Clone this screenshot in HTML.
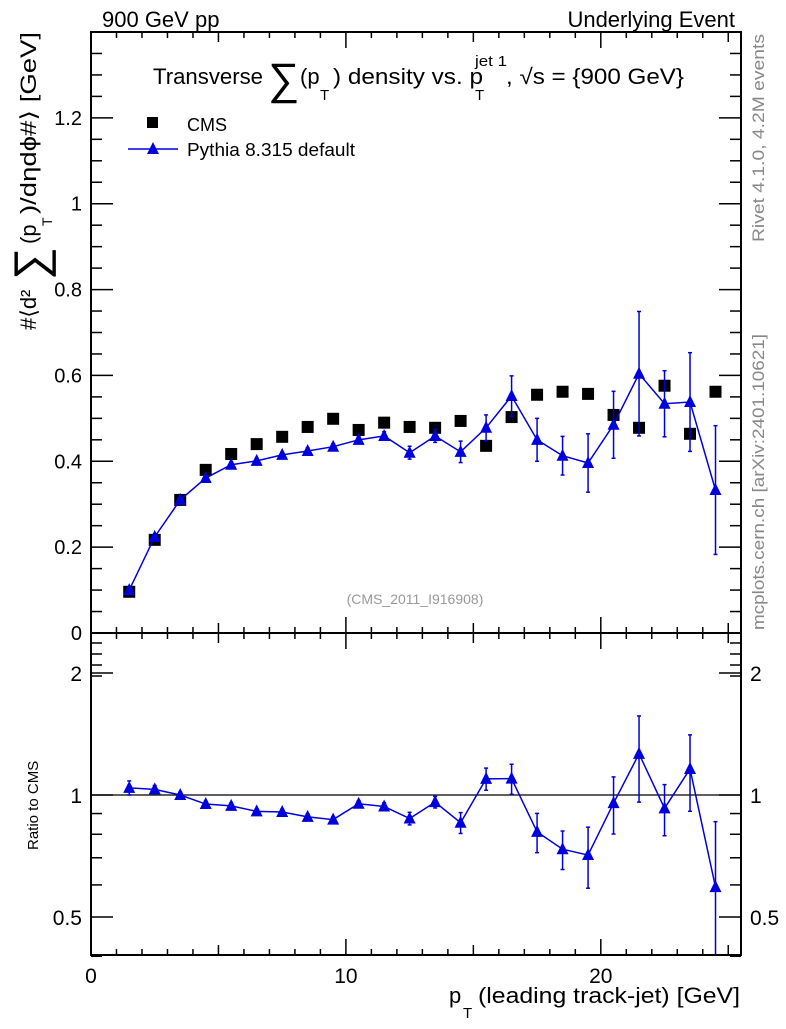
<!DOCTYPE html>
<html><head><meta charset="utf-8"><style>
body{margin:0;background:#fff;}
svg text{font-family:"Liberation Sans",sans-serif;}
</style></head><body>
<svg id="chart" width="786" height="1024" xmlns="http://www.w3.org/2000/svg">
<g id="g"></g>
</svg>
<script>
const xCenters=[1.5,2.5,3.5,4.5,5.5,6.5,7.5,8.5,9.5,10.5,11.5,12.5,13.5,14.5,15.5,16.5,17.5,18.5,19.5,20.5,21.5,22.5,23.5,24.5];
const cmsValues=[0.096,0.217,0.31,0.38,0.417,0.44,0.457,0.48,0.499,0.473,0.49,0.48,0.478,0.494,0.436,0.503,0.555,0.562,0.557,0.508,0.478,0.576,0.464,0.562];
const pythiaValues=[0.10,0.224,0.31,0.361,0.392,0.401,0.415,0.424,0.434,0.45,0.459,0.42,0.459,0.422,0.478,0.552,0.45,0.413,0.396,0.485,0.604,0.534,0.538,0.333];
const pythiaErrors=[0.004,0.005,0.005,0.006,0.006,0.006,0.006,0.007,0.007,0.008,0.01,0.015,0.015,0.025,0.03,0.047,0.05,0.045,0.068,0.078,0.145,0.077,0.115,0.15];
const mainTicks=[0,0.2,0.4,0.6,0.8,1,1.2];
const mainTickLabels=["0","0.2","0.4","0.6","0.8","1","1.2"];
const ratioTicks=[0.5,1,2];
const ratioTickLabels=["0.5","1","2"];
const xTicks=[0,10,20];
const xTickLabels=["0","10","20"];

const L=91,R=741,T=32,MB=633,RB=955;
const X=v=>L+(v-0)*(R-L)/25.5;
const Y=v=>MB-v*(MB-T)/1.4;
const RY=v=>795-Math.log2(v)*122;
const g=document.getElementById('g');
const NS='http://www.w3.org/2000/svg';
function el(tag,attrs,parent){const e=document.createElementNS(NS,tag);for(const k in attrs)e.setAttribute(k,attrs[k]);(parent||g).appendChild(e);return e;}
function txt(s,attrs,parent){const e=el('text',attrs,parent);e.textContent=s;return e;}

let f1=el('rect',{x:L,y:T,width:R-L,height:MB-T,fill:'none',stroke:'#000','stroke-width':2});


let f2=el('rect',{x:L,y:MB,width:R-L,height:RB-MB,fill:'none',stroke:'#000','stroke-width':2});



for(let v=0;v<=25;v++){
  const major=v%5===0;
  for(const [y,d] of [[MB,-1],[T,1],[RB,-1],[MB,1]]){
    el('line',{x1:X(v),x2:X(v),y1:y,y2:y+d*(v%10===0?16:(major?10:6)),stroke:'#000','stroke-width':1.5});
  }
}
xTicks.forEach((v,i)=>{const t=txt(xTickLabels[i],{x:X(v),y:983,'font-size':21,'text-anchor':'middle'});

});

for(let v=0;v<=1.4001;v+=0.05){
  const major=Math.abs(v*5-Math.round(v*5))<1e-6; const len=major?22:11;
  el('line',{x1:L,x2:L+len,y1:Y(v),y2:Y(v),stroke:'#000','stroke-width':1.5});
  el('line',{x1:R,x2:R-len,y1:Y(v),y2:Y(v),stroke:'#000','stroke-width':1.5});
}
mainTicks.forEach((v,i)=>{const t=txt(mainTickLabels[i],{x:82,y:Y(v)+7,'font-size':20,'text-anchor':'end'});

});

[0.4,0.5,0.6,0.7,0.8,0.9,1,2].forEach(v=>{const len=(v===0.5||v===1||v===2)?22:11;
  el('line',{x1:L,x2:L+len,y1:RY(v),y2:RY(v),stroke:'#000','stroke-width':1.5});
  el('line',{x1:R,x2:R-len,y1:RY(v),y2:RY(v),stroke:'#000','stroke-width':1.5});});
for(let i=0;i<4;i++){const y=MB+10+i*11;el('line',{x1:L,x2:L+11,y1:y,y2:y,stroke:'#000','stroke-width':1.5});el('line',{x1:R,x2:R-11,y1:y,y2:y,stroke:'#000','stroke-width':1.5});}
ratioTicks.forEach((v,i)=>{let t=txt(ratioTickLabels[i],{x:82,y:RY(v)+8,'font-size':21,'text-anchor':'end'});


t=txt(ratioTickLabels[i],{x:750,y:RY(v)+8,'font-size':21});

});
el('line',{x1:L,x2:R,y1:RY(1),y2:RY(1),stroke:'#000','stroke-width':1.2});

xCenters.forEach((x,i)=>{const r=el('rect',{x:X(x)-6,y:Y(cmsValues[i])-6,width:12,height:12,fill:'#000'});

});

function tri(cx,cy){return `${cx-6},${cy+5} ${cx+6},${cy+5} ${cx},${cy-7}`;}
let pl=el('polyline',{points:xCenters.map((x,i)=>X(x)+','+Y(pythiaValues[i])).join(' '),fill:'none',stroke:'#0000dd','stroke-width':1.5});


xCenters.forEach((x,i)=>{
  const v=pythiaValues[i],e=pythiaErrors[i];
  el('line',{x1:X(x),x2:X(x),y1:Y(v-e),y2:Y(v+e),stroke:'#0000dd','stroke-width':1.5});
  el('line',{x1:X(x)-2,x2:X(x)+2,y1:Y(v-e),y2:Y(v-e),stroke:'#0000dd','stroke-width':1.5});
  el('line',{x1:X(x)-2,x2:X(x)+2,y1:Y(v+e),y2:Y(v+e),stroke:'#0000dd','stroke-width':1.5});
  const p=el('polygon',{points:tri(X(x),Y(v)),fill:'#0000dd'});
  
  
});
const ratios=xCenters.map((x,i)=>pythiaValues[i]/cmsValues[i]);
let rl=el('polyline',{points:xCenters.map((x,i)=>X(x)+','+RY(ratios[i])).join(' '),fill:'none',stroke:'#0000dd','stroke-width':1.5});


xCenters.forEach((x,i)=>{
  const r=ratios[i],e=pythiaErrors[i]/cmsValues[i];
  const lo=Math.max(r-e,0.4);
  el('line',{x1:X(x),x2:X(x),y1:Math.min(RY(lo),RB),y2:RY(r+e),stroke:'#0000dd','stroke-width':1.5});
  el('line',{x1:X(x)-2,x2:X(x)+2,y1:RY(r+e),y2:RY(r+e),stroke:'#0000dd','stroke-width':1.5});
  if(r-e>0.4)el('line',{x1:X(x)-2,x2:X(x)+2,y1:RY(r-e),y2:RY(r-e),stroke:'#0000dd','stroke-width':1.5});
  const p=el('polygon',{points:tri(X(x),RY(r)),fill:'#0000dd'});
  
  
});
</script>
<svg width="786" height="1024" style="position:absolute;left:0;top:0" xmlns="http://www.w3.org/2000/svg">
<text x="102" y="27" font-size="22" style="font-family:'Liberation Sans',sans-serif">900 GeV pp</text>
<text x="735" y="27" font-size="22" text-anchor="end" style="font-family:'Liberation Sans',sans-serif">Underlying Event</text>
<g style="font-family:'Liberation Sans',sans-serif">
<text x="153" y="84" font-size="22" textLength="110" lengthAdjust="spacingAndGlyphs">Transverse</text>
<text x="268" y="94" font-size="44">∑</text>
<text x="300" y="84" font-size="22">(p</text>
<text x="320" y="100" font-size="15">T</text>
<text x="333" y="84" font-size="22" textLength="150" lengthAdjust="spacingAndGlyphs">) density vs. p</text>
<text x="475" y="100" font-size="15">T</text>
<text x="475" y="66" font-size="15" textLength="32" lengthAdjust="spacingAndGlyphs">jet 1</text>
<text x="506" y="84" font-size="22" textLength="178" lengthAdjust="spacingAndGlyphs">, √s = {900 GeV}</text>
</g>
<rect x="147" y="117" width="11" height="11" fill="#000"/>
<text x="187" y="131" font-size="18" style="font-family:'Liberation Sans',sans-serif">CMS</text>
<line x1="128" x2="178" y1="149" y2="149" stroke="#0000dd" stroke-width="1.5"/>
<polygon points="147,154 159,154 153,142" fill="#0000dd"/>
<text x="187" y="156" font-size="18" textLength="168" lengthAdjust="spacingAndGlyphs" style="font-family:'Liberation Sans',sans-serif">Pythia 8.315 default</text>
<text x="415" y="604" font-size="14" fill="#999" text-anchor="middle" style="font-family:'Liberation Sans',sans-serif">(CMS_2011_I916908)</text>
<text transform="translate(764,242) rotate(-90)" font-size="17" fill="#888" textLength="208" lengthAdjust="spacingAndGlyphs" style="font-family:'Liberation Sans',sans-serif">Rivet 4.1.0,  4.2M events</text>
<text transform="translate(764,630) rotate(-90)" font-size="17" fill="#888" textLength="296" lengthAdjust="spacingAndGlyphs" style="font-family:'Liberation Sans',sans-serif">mcplots.cern.ch [arXiv:2401.10621]</text>
<g transform="translate(36,330) rotate(-90)" style="font-family:'Liberation Sans',sans-serif">
<text x="0" y="0" font-size="22">#⟨d²</text>
<text x="50" y="10" font-size="46">∑</text>
<text x="86" y="0" font-size="22">(p</text>
<text x="104" y="16" font-size="14">T</text>
<text x="116" y="0" font-size="22" textLength="182" lengthAdjust="spacingAndGlyphs">)/dηdϕ#⟩ [GeV]</text>
</g>
<text transform="translate(38,850) rotate(-90)" font-size="15" style="font-family:'Liberation Sans',sans-serif">Ratio to CMS</text>
<g style="font-family:'Liberation Sans',sans-serif">
<text x="449" y="1003" font-size="22">p</text>
<text x="463" y="1018" font-size="15">T</text>
<text x="478" y="1003" font-size="22" textLength="262" lengthAdjust="spacingAndGlyphs">(leading track-jet) [GeV]</text>
</g>
</svg>
</body></html>
